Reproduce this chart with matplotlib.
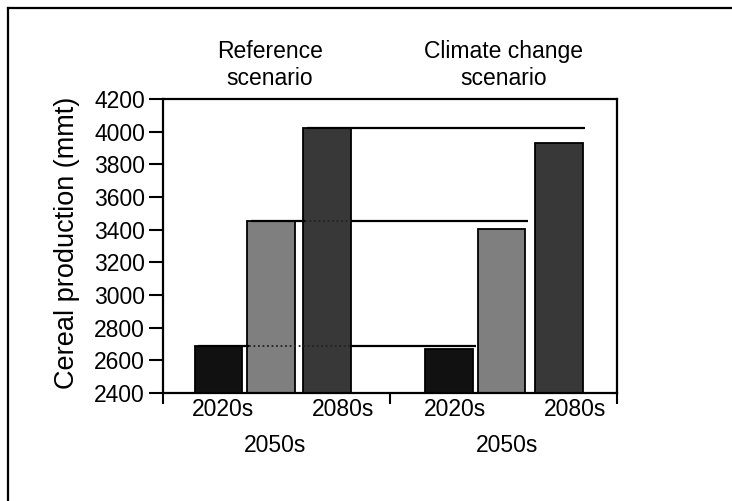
import matplotlib
matplotlib.use("Agg")
import matplotlib.pyplot as plt
from matplotlib.lines import Line2D
import matplotlib.transforms as mtransforms

plt.rcParams['font.family'] = ['Liberation Sans', 'DejaVu Sans']

# ---- data ----
scenarios = ["Reference\nscenario", "Climate change\nscenario"]
periods = ["2020s", "2050s", "2080s"]
reference_values = [2690, 3455, 4025]
climate_values = [2670, 3405, 3930]
bar_colors = ["#111111", "#7f7f7f", "#383838"]
yticks = [2400, 2600, 2800, 3000, 3200, 3400, 3600, 3800, 4000, 4200]

# ---- layout (x in group units: axis spans 0..2) ----
ref_pos = [0.2445, 0.476, 0.7225]
cli_pos = [1.26, 1.491, 1.744]
width = 0.21
label_pos_ref = [0.264, 0.493, 0.793]
label_pos_cli = [1.286, 1.515, 1.815]

W, H = 732, 501
fig = plt.figure(figsize=(W / 100, H / 100), dpi=100)
ax = fig.add_axes([163 / W, 1 - 393 / H, (617 - 163) / W, (393 - 99) / H])

for x, v, c in zip(ref_pos, reference_values, bar_colors):
    ax.bar(x, v, width=width, color=c, edgecolor="black", linewidth=1.3, zorder=2)
for x, v, c in zip(cli_pos, climate_values, bar_colors):
    ax.bar(x, v, width=width, color=c, edgecolor="black", linewidth=1.3, zorder=2)

# reference lines from reference bars across to climate bars
for i, v in enumerate(reference_values):
    start = ref_pos[i] - width / 2 + 0.015
    end = cli_pos[i] + width / 2 + 0.012
    last_right = ref_pos[-1] + width / 2
    if i < len(reference_values) - 1:
        nxt = ref_pos[i + 1] - width / 2 + 0.01
        ax.plot([start, nxt], [v, v], color="black", lw=1.6, zorder=3, solid_capstyle="butt")
        ax.plot([nxt, last_right], [v, v], color="#222222", lw=1.3, ls=(0, (1, 1.5)), zorder=3)
        ax.plot([last_right, end], [v, v], color="black", lw=1.6, zorder=3, solid_capstyle="butt")
    else:
        ax.plot([start, end], [v, v], color="black", lw=1.6, zorder=3, solid_capstyle="butt")

ax.set_xlim(0, 2)
ax.set_ylim(2400, 4200)
ax.set_yticks(yticks)
ax.set_yticklabels([str(t) for t in yticks], fontsize=16.5)
ax.set_xticks([0, 1, 2])
ax.set_xticklabels([])
ax.tick_params(axis="y", direction="out", length=10, width=1.5, pad=3)
ax.tick_params(axis="x", direction="out", length=8, width=1.5)
for s in ax.spines.values():
    s.set_linewidth(1.6)

fig.text(67 / W, 1 - 243 / H, "Cereal production (mmt)", rotation=90, ha="center", va="center",
         fontsize=19.5)

trans = mtransforms.blended_transform_factory(ax.transData, fig.transFigure)
for xs in (label_pos_ref, label_pos_cli):
    ax.text(xs[0], 1 - 410 / H, periods[0], transform=trans, ha="center", va="center", fontsize=16.5)
    ax.text(xs[2], 1 - 410 / H, periods[2], transform=trans, ha="center", va="center", fontsize=16.5)
    ax.text(xs[1], 1 - 445 / H, periods[1], transform=trans, ha="center", va="center", fontsize=16.5)

fig.text(270 / W, 1 - 65 / H, scenarios[0], ha="center", va="center", fontsize=16.5, linespacing=1.2)
fig.text(504 / W, 1 - 65 / H, scenarios[1], ha="center", va="center", fontsize=16.5, linespacing=1.2)

# outer frame (top and left edges visible)
fig.add_artist(Line2D([8 / W, 1.0], [1 - 8 / H, 1 - 8 / H], transform=fig.transFigure, color="black", lw=1.6))
fig.add_artist(Line2D([8 / W, 8 / W], [0, 1 - 8 / H], transform=fig.transFigure, color="black", lw=1.6))

fig.savefig("out.png", dpi=100)
